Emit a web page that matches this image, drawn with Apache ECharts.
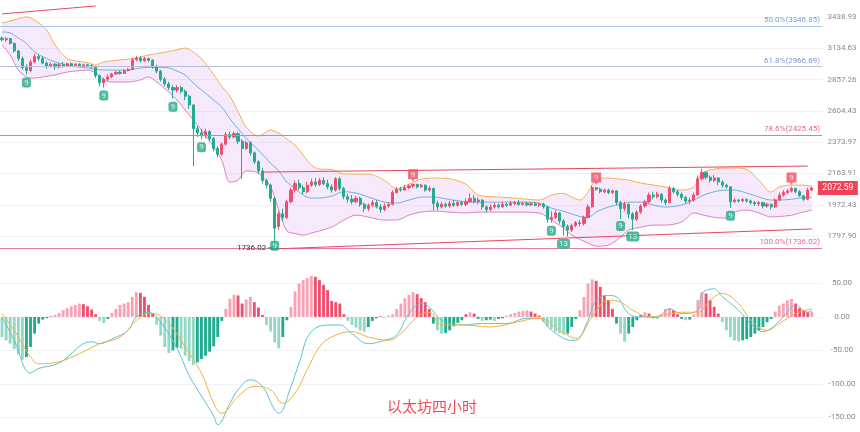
<!DOCTYPE html>
<html lang="zh">
<head>
<meta charset="UTF-8">
<title>以太坊四小时</title>
<script src="https://cdn.jsdelivr.net/npm/echarts@6/dist/echarts.min.js"></script>
<style>
  * { margin: 0; padding: 0; }
  #main { width: 860px; height: 432px; background: #fff; }
</style>
</head>
<body>
<div id="main"></div>
<script>
// price axis tick labels (log scale)
const tickLabels = ['1797.90', '1972.43', '2163.91', '2373.97', '2604.43', '2857.26', '3134.63', '3438.93'];
const macdTicks = [-150, -100, -50, 0, 50];

// candles: [open, high, low, close]
const ohlc = [
  [3230,3245,3200,3215],[3215,3240,3195,3225],[3225,3232,3170,3180],[3180,3190,3095,3110],[3110,3120,3020,3040],
  [3040,3060,2940,2960],[2960,2990,2900,2935],[2935,3030,2920,3010],[3010,3085,2995,3060],[3060,3075,3020,3040],
  [3040,3060,2990,3000],[3000,3015,2950,2975],[2975,3005,2960,2990],[2990,3000,2940,2965],[2965,3000,2955,2985],
  [2985,3010,2960,2975],[2975,3005,2965,2995],[2995,3005,2970,2980],[2980,3000,2970,2990],[2990,2998,2965,2975],
  [2975,2995,2968,2985],[2985,2995,2965,2978],[2978,2990,2955,2965],[2965,2975,2870,2890],[2890,2900,2800,2830],
  [2830,2875,2790,2860],[2860,2900,2845,2880],[2880,2915,2870,2905],[2905,2930,2895,2920],[2920,2935,2900,2910],
  [2910,2945,2905,2935],[2935,2955,2925,2945],[2945,3045,2940,3030],[3030,3065,3015,3045],[3045,3060,3005,3020],
  [3020,3055,3010,3040],[3040,3050,3010,3025],[3025,3035,2950,2970],[2970,2985,2910,2930],[2930,2940,2840,2860],
  [2860,2880,2800,2820],[2820,2840,2770,2790],[2790,2810,2700,2770],[2770,2810,2750,2790],[2790,2805,2740,2760],
  [2760,2775,2690,2720],[2720,2730,2620,2650],[2650,2655,2210,2470],[2470,2490,2410,2440],[2440,2470,2395,2420],
  [2420,2470,2400,2450],[2450,2460,2380,2400],[2400,2410,2310,2330],[2330,2345,2270,2290],[2290,2370,2280,2360],
  [2360,2445,2350,2430],[2430,2450,2395,2410],[2410,2450,2400,2435],[2435,2445,2360,2380],[2380,2395,2130,2330],
  [2330,2385,2320,2370],[2370,2380,2280,2300],[2300,2310,2225,2240],[2240,2250,2160,2180],[2180,2200,2100,2120],
  [2120,2130,2070,2090],[2090,2100,1990,2010],[2010,2020,1736.02,1840],[1850,1935,1830,1920],[1920,1950,1880,1900],
  [1900,2000,1890,1990],[1990,2075,1980,2060],[2060,2120,2045,2100],[2100,2125,2060,2075],[2075,2090,2035,2050],
  [2050,2110,2040,2090],[2090,2130,2080,2110],[2110,2135,2080,2095],[2095,2135,2085,2120],[2120,2140,2090,2100],
  [2100,2125,2065,2080],[2080,2095,2045,2060],[2060,2140,2050,2130],[2130,2140,2055,2070],[2070,2080,2005,2020],
  [2020,2035,1985,2005],[2005,2030,1975,1990],[1990,2025,1980,2010],[2010,2020,1960,1975],[1975,1985,1930,1950],
  [1950,1980,1935,1970],[1970,2000,1960,1985],[1985,2000,1950,1960],[1960,1975,1925,1945],[1945,1980,1935,1965],
  [1965,1985,1955,1975],[1975,2060,1970,2045],[2045,2080,2040,2065],[2065,2080,2050,2060],[2060,2090,2055,2075],
  [2075,2095,2065,2085],[2085,2100,2075,2095],[2095,2098,2070,2080],[2080,2098,2075,2090],[2090,2095,2050,2060],
  [2060,2085,2050,2070],[2070,2075,1940,1980],[1980,1995,1940,1960],[1960,1990,1950,1975],[1975,1985,1955,1965],
  [1965,1995,1955,1980],[1980,2000,1960,1970],[1970,1995,1960,1985],[1985,1995,1965,1975],[1975,2010,1965,1990],
  [1990,2040,1985,2010],[2010,2030,1980,1990],[1990,2015,1975,2000],[2000,2005,1945,1960],[1960,1970,1930,1945],
  [1945,1975,1935,1960],[1960,1985,1950,1970],[1970,1980,1950,1960],[1960,1990,1955,1975],[1975,1985,1960,1970],
  [1970,1995,1965,1980],[1980,1995,1970,1985],[1985,2000,1965,1975],[1975,1990,1968,1980],[1980,1990,1962,1972],
  [1972,1990,1965,1978],[1978,1988,1962,1970],[1970,1985,1960,1975],[1975,1985,1950,1960],[1960,1965,1870,1890],
  [1890,1935,1870,1900],[1900,1940,1890,1925],[1925,1930,1865,1880],[1880,1890,1800,1850],[1850,1860,1795,1830],
  [1830,1865,1820,1855],[1855,1880,1845,1870],[1870,1885,1850,1865],[1865,1910,1855,1900],[1900,1975,1895,1960],
  [1960,2090,1955,2075],[2075,2080,2055,2065],[2065,2075,2040,2050],[2050,2070,2040,2060],[2060,2068,2035,2045],
  [2045,2062,2035,2055],[2055,2060,1970,1985],[1985,1995,1890,1950],[1950,1990,1935,1975],[1975,1980,1895,1920],
  [1920,1930,1830,1890],[1890,1940,1880,1930],[1930,1975,1920,1965],[1965,2000,1955,1990],[1990,2045,1980,2030],
  [2030,2050,2005,2020],[2020,2050,2010,2035],[2035,2040,1985,2000],[2000,2010,1970,1985],[1985,2085,1980,2070],
  [2070,2080,2040,2050],[2050,2060,2020,2035],[2035,2045,2000,2015],[2015,2025,1980,1995],[1995,2015,1975,2000],
  [2000,2045,1990,2030],[2030,2150,2025,2130],[2130,2195,2120,2170],[2170,2180,2125,2140],[2140,2150,2105,2120],
  [2120,2155,2110,2135],[2135,2140,2090,2110],[2110,2120,2075,2090],[2090,2100,2070,2080],[2080,2085,1955,1990],
  [1990,2010,1985,2000],[2000,2008,1985,1995],[1995,2012,1988,2003],[2003,2010,1985,1995],[1995,2003,1975,1985],
  [1985,1995,1965,1978],[1978,1995,1965,1985],[1985,1990,1950,1965],[1965,1985,1955,1975],[1975,1980,1945,1960],
  [1960,2010,1955,2000],[2000,2045,1995,2030],[2030,2060,2020,2045],[2045,2065,2035,2055],[2055,2080,2045,2070],
  [2070,2075,2040,2050],[2050,2060,2020,2025],[2025,2030,1995,2005],[2005,2075,2000,2060],[2060,2080,2055,2072.59]
];

// bollinger bands, read at these candle indices
const bbIdx = [0,2,4,6,8,11,13,16,18,21,23,25,27,29,31,34,36,38,41,43,45,47,49,52,54,56,58,60,63,66,68,70,72,74,76,78,81,84,87,90,94,97,100,103,106,110,114,117,122,127,132,135,138,140,142,144,146,149,152,154,157,160,163,167,170,172,175,178,180,183,186,189,191,194,196,199];
const bbUpper = [3378,3398,3420,3440,3408,3309,3165,3040,3019,3005,2983,3010,3020,3028,3035,3055,3073,3085,3105,3120,3137,3100,3040,2900,2800,2720,2600,2483,2418,2461,2439,2396,2354,2285,2219,2192,2190,2160,2160,2160,2120,2067,2097,2128,2135,2130,2097,2030,2018,2010,2000,2030,2040,2018,2000,2048,2125,2135,2128,2122,2103,2091,2079,2060,2079,2166,2192,2199,2199,2190,2122,2048,2079,2091,2091,2085];
const bbMid = [3290,3280,3231,3180,3100,3040,3010,2985,2970,2957,2945,2940,2939,2939,2939,2957,2962,2962,2957,2930,2896,2828,2770,2690,2634,2545,2470,2400,2319,2230,2180,2110,2070,2030,2012,2012,2024,2050,2042,2018,1988,1982,2000,2018,2018,2003,1990,1988,1988,1988,1982,1953,1935,1920,1905,1900,1930,1959,1975,1988,1988,1971,1959,1971,2000,2025,2050,2060,2060,2042,2018,2000,2000,2005,2012,2018];
const bbLower = [3165,3073,2939,2879,2870,2885,2896,2922,2930,2939,2913,2854,2837,2837,2837,2854,2879,2837,2754,2690,2611,2535,2461,2340,2250,2109,2122,2180,2166,2079,1942,1825,1812,1803,1814,1825,1846,1885,1913,1902,1885,1885,1913,1930,1936,1930,1925,1930,1930,1930,1925,1885,1841,1803,1780,1761,1745,1750,1792,1830,1846,1857,1857,1874,1925,1915,1900,1896,1930,1942,1925,1902,1905,1912,1925,1942];

// MACD histogram, one per candle
const macdHist = [
  -30,-35,-40,-48,-56,-64,-60,-45,-25,-10,
  -4,-2,1,3,6,10,13,16,18,20,
  19,16,11,4,-6,-9,-3,6,12,18,
  20,22,30,37,36,30,18,5,-12,-28,
  -45,-54,-50,-46,-48,-58,-66,-72,-68,-63,
  -58,-52,-44,-30,-6,12,27,33,32,20,
  26,30,22,14,3,-12,-22,-38,-47,-30,
  -5,15,38,50,55,58,61,60,55,48,
  40,24,22,20,4,-6,-12,-16,-20,-22,
  -15,-6,-2,1,-1,2,4,12,20,28,
  33,37,34,28,22,12,-10,-20,-25,-24,
  -20,-14,-9,-5,4,7,5,-3,-6,-5,
  -4,-6,-3,-2,2,4,6,8,9,10,
  8,5,2,-8,-14,-18,-22,-24,-26,-25,
  -15,-3,10,30,50,56,54,45,32,25,
  12,-10,-25,-37,-25,-15,-5,3,7,5,
  -2,-3,4,12,13,10,4,-3,-5,-4,
  4,25,37,35,25,15,5,-8,-20,-30,
  -35,-37,-35,-33,-30,-25,-20,-15,-8,-3,
  8,17,20,25,27,20,13,10,7,8
];
const difIdx = [0,3,7,9,14,22,24,27,31,33,36,39,43,46,49,52,53,56,58,61,64,67,68,71,73,76,81,83,86,90,94,97,100,103,105,108,113,118,124,129,132,135,140,141,144,146,149,151,154,157,161,164,167,171,172,175,177,181,184,187,189,192,195,198,199];
const difVal = [0,-35,-84,-77,-69,-37,-40,-33,-20,0,7,-8,-47,-88,-118,-148,-161,-129,-109,-94,-104,-139,-144,-104,-69,-22,-12,-12,-25,-40,-35,-27,5,20,15,-5,-12,-10,-10,-2,-2,-20,-35,-35,-5,25,32,30,5,0,0,12,5,10,35,42,30,10,-10,-22,-17,0,17,7,10];
const deaIdx = [0,3,7,9,14,19,24,29,34,37,41,45,49,52,54,58,62,66,69,72,75,78,81,86,90,95,98,102,105,108,113,120,127,132,137,141,145,149,152,155,159,162,167,171,174,177,181,184,188,191,195,199];
const deaVal = [5,-20,-60,-70,-67,-55,-40,-30,0,5,-10,-45,-84,-129,-144,-119,-104,-109,-129,-114,-79,-45,-30,-22,-30,-35,-25,0,7,-12,-12,-15,-7,-2,-20,-32,0,25,22,10,0,2,7,7,25,35,20,-5,-20,-10,5,12];

// fibonacci levels
const fibPct = ['50.0%', '61.8%', '78.6%', '100.0%'];
const fibPrice = [3346.85, 2966.69, 2425.45, 1736.02];

// TD sequential counts: [candle index, count]
const tdBuy = [[6,9],[25,9],[42,9],[49,9],[67,9],[135,9],[138,13],[152,9],[155,13],[179,9]];
const tdSell = [[101,9],[146,9],[194,9]];

// drawn trend lines: [i1, price1, i2, price2]
const trendLines = [[0,3470,23,3553],[64,2173,198,2212],[66,1730,199,1836]];
const lowMark = [67, 1736.02];
const lastPrice = 2072.59;

// log price axis: one tick step = constant ratio
const P0 = +tickLabels[0];
const R = Math.pow(+tickLabels[7] / P0, 1 / 7);
const toY = p => Math.log(p / P0) / Math.log(R);

const categories = Array.from({ length: ohlc.length + 2 }, (_, i) => String(i));
const mainTickPos = tickLabels.map(t => toY(+t));

const UP = '#ef4f6f', DOWN = '#22ab8f';
const fibLine = ['#a9c4e4', '#b4c0d6', '#e27aa8', '#e27aa8'];
const fibText = ['#7d9fd8', '#8498d0', '#e0689c', '#e0689c'];

let chart = echarts.init(document.getElementById('main'));

let histData = macdHist.map((v, i) => {
  let prev = i > 0 ? macdHist[i - 1] : 0;
  let growing = Math.abs(v) >= Math.abs(prev);
  let color = v >= 0 ? (growing ? '#f7a3b5' : UP) : (growing ? '#93d8c4' : DOWN);
  return { value: v, itemStyle: { color } };
});

let markLines = fibPrice.map((p, k) => ({
  yAxis: toY(p),
  lineStyle: { color: fibLine[k], width: 1, type: 'solid' },
  label: {
    show: true, position: 'insideEndTop', distance: 2,
    formatter: fibPct[k] + '(' + p.toFixed(2) + ')',
    color: fibText[k], fontSize: 8, fontFamily: 'Roboto'
  }
}));
trendLines.forEach(t => {
  markLines.push([
    { coord: [t[0], toY(t[1])], lineStyle: { color: '#e8475f', width: 1, type: 'solid' }, label: { show: false } },
    { coord: [t[2], toY(t[3])] }
  ]);
});

// buy count sits under the wick, but never far below the body
const buyAnchor = i => {
  let [o, h, l, c] = ohlc[i];
  return Math.max(toY(l), toY(Math.min(o, c)) - 0.3);
};

const sellPath = 'path://M0,0H10V10H6.5L5,12.5L3.5,10H0Z';

let option = {
  animation: false,
  backgroundColor: '#fff',
  title: {
    text: '以太坊四小时', left: 382, top: 394,
    textStyle: { color: '#ec4d5b', fontSize: 15, fontWeight: 'normal', fontFamily: 'Noto Sans CJK SC' }
  },
  grid: [
    { left: 0, right: 38, top: 0, height: 262 },
    { left: 0, right: 38, top: 250, bottom: 0 }
  ],
  xAxis: [
    { type: 'category', gridIndex: 0, data: categories, boundaryGap: true, show: false },
    { type: 'category', gridIndex: 1, data: categories, boundaryGap: true, show: false }
  ],
  yAxis: [
    {
      type: 'value', gridIndex: 0, position: 'right',
      min: toY(1665), max: toY(3616),
      axisLine: { show: false },
      axisTick: { show: false, customValues: mainTickPos },
      axisLabel: {
        customValues: mainTickPos, margin: 20, align: 'center',
        fontSize: 8, color: '#8a8a8a', fontFamily: 'Roboto',
        formatter: v => tickLabels.find(t => Math.abs(toY(+t) - v) < 1e-6) || ''
      },
      splitLine: { lineStyle: { color: '#f2f2f4' } }
    },
    {
      type: 'value', gridIndex: 1, position: 'right', min: -172, max: 100,
      axisLine: { show: false },
      axisTick: { show: false, customValues: macdTicks },
      axisLabel: {
        customValues: macdTicks, margin: 20, align: 'center',
        fontSize: 8, color: '#8a8a8a', fontFamily: 'Roboto',
        formatter: v => v.toFixed(2)
      },
      splitLine: { lineStyle: { color: '#f2f2f4' } }
    }
  ],
  series: [
    {
      name: 'BB lower', type: 'line', xAxisIndex: 0, yAxisIndex: 0,
      data: bbIdx.map((i, k) => [i, toY(bbLower[k])]),
      stack: 'bb', stackStrategy: 'all', smooth: 0.3, symbol: 'none', silent: true, z: 1,
      lineStyle: { color: '#de80c4', width: 1 }
    },
    {
      name: 'BB upper', type: 'line', xAxisIndex: 0, yAxisIndex: 0,
      data: bbIdx.map((i, k) => [i, toY(bbUpper[k]) - toY(bbLower[k])]),
      stack: 'bb', stackStrategy: 'all', smooth: 0.3, symbol: 'none', silent: true, z: 1,
      lineStyle: { color: '#f5b04f', width: 1 },
      areaStyle: { color: 'rgba(205,140,235,0.27)' }
    },
    {
      name: 'BB mid', type: 'line', xAxisIndex: 0, yAxisIndex: 0,
      data: bbIdx.map((i, k) => [i, toY(bbMid[k])]),
      smooth: 0.3, symbol: 'none', silent: true, z: 1,
      lineStyle: { color: '#6fb0dc', width: 1 }
    },
    {
      name: 'ETH', type: 'candlestick', xAxisIndex: 0, yAxisIndex: 0,
      data: ohlc.map(([o, h, l, c]) => [toY(o), toY(c), toY(l), toY(h)]),
      barWidth: '65%',
      itemStyle: { color: UP, color0: DOWN, borderColor: UP, borderColor0: DOWN, borderWidth: 1 },
      markLine: { silent: true, symbol: ['none', 'none'], data: markLines },
      markPoint: {
        silent: true,
        data: [
          {
            coord: [lowMark[0], toY(lowMark[1])], symbol: 'rect', symbolSize: [5, 1], symbolOffset: [-4, 0],
            itemStyle: { color: '#555' },
            label: { show: true, position: 'left', distance: 2, formatter: lowMark[1].toFixed(2), color: '#333', fontSize: 8, fontFamily: 'Roboto' }
          },
          {
            coord: [ohlc.length - 1, toY(lastPrice)], symbol: 'rect', symbolSize: [40, 14], symbolOffset: [26, 0],
            itemStyle: { color: '#f0435a' },
            label: { show: true, position: 'inside', formatter: lastPrice.toFixed(2), color: '#fff', fontSize: 8.5, fontFamily: 'Roboto' }
          }
        ]
      }
    },
    {
      name: 'TD buy', type: 'scatter', xAxisIndex: 0, yAxisIndex: 0, z: 5, silent: true,
      symbol: 'roundRect', symbolOffset: [0, 8],
      data: tdBuy.map(([i, n]) => ({ value: [i, buyAnchor(i)], symbolSize: n > 9 ? [13, 10] : [9, 10], label: { formatter: String(n) } })),
      itemStyle: { color: '#26a889' },
      label: { show: true, position: 'inside', color: '#fff', fontSize: 8, fontFamily: 'Roboto' }
    },
    {
      name: 'TD sell', type: 'scatter', xAxisIndex: 0, yAxisIndex: 0, z: 5, silent: true,
      symbol: sellPath, symbolSize: [10, 12.5], symbolOffset: [0, -8],
      data: tdSell.map(([i, n]) => ({ value: [i, toY(ohlc[i][1])], label: { formatter: String(n) } })),
      itemStyle: { color: '#ef4f63' },
      label: { show: true, position: 'inside', offset: [0, -1], color: '#fff', fontSize: 8, fontFamily: 'Roboto' }
    },
    {
      name: 'MACD', type: 'bar', xAxisIndex: 1, yAxisIndex: 1,
      data: histData, barWidth: '70%'
    },
    {
      name: 'DIF', type: 'line', xAxisIndex: 1, yAxisIndex: 1,
      data: difIdx.map((i, k) => [i, difVal[k]]),
      smooth: 0.4, symbol: 'none', lineStyle: { color: '#58c4cf', width: 1 }
    },
    {
      name: 'DEA', type: 'line', xAxisIndex: 1, yAxisIndex: 1,
      data: deaIdx.map((i, k) => [i, deaVal[k]]),
      smooth: 0.4, symbol: 'none', lineStyle: { color: '#f5b13d', width: 1 }
    }
  ]
};

chart.setOption(option);
</script>
</body>
</html>
